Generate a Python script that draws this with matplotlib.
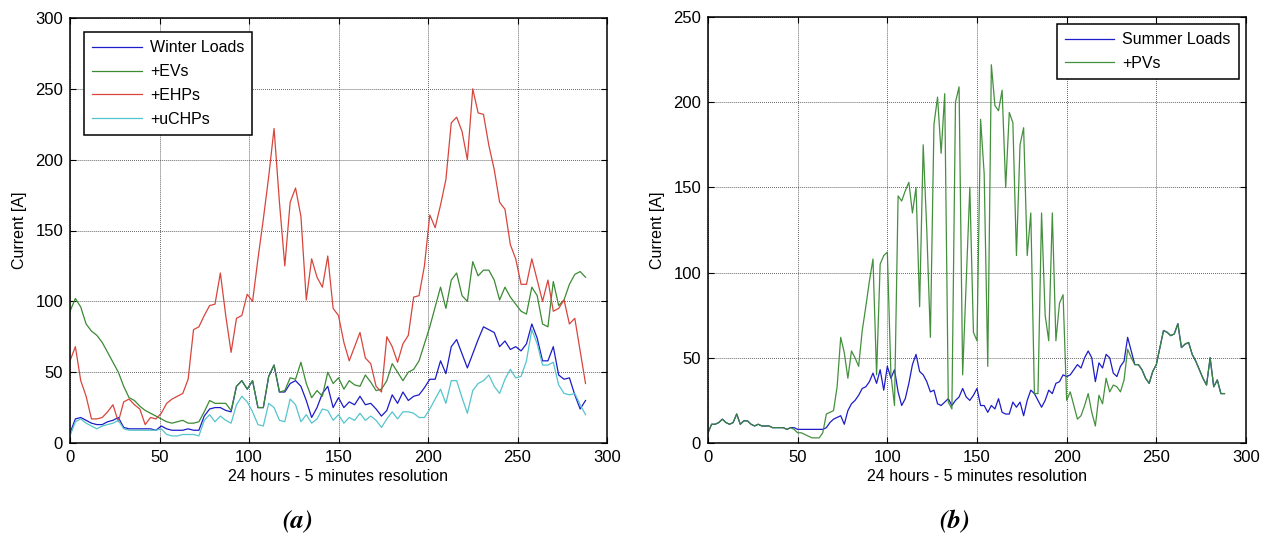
import numpy as np
import matplotlib
matplotlib.use("Agg")
import matplotlib.pyplot as plt

plt.rcParams['font.family'] = ['Liberation Sans', 'DejaVu Sans']

# ---- Panel (a): winter, 5-minute samples read every 3 steps ----
step_a = 3
winter_loads = [7, 17, 18, 16, 14, 13, 13, 15, 16, 18,
                11, 10, 10, 10, 10, 10, 9, 12, 10, 9,
                9, 9, 10, 9, 9, 19, 24, 25, 25, 23,
                22, 40, 44, 38, 44, 25, 25, 47, 55, 36,
                36, 42, 44, 40, 30, 18, 25, 35, 40, 25,
                32, 25, 29, 27, 33, 27, 28, 24, 19, 23,
                34, 28, 36, 30, 33, 34, 39, 45, 45, 58,
                49, 68, 73, 63, 53, 63, 73, 82, 80, 78,
                68, 72, 66, 68, 65, 70, 84, 74, 58, 58,
                68, 48, 45, 46, 34, 24, 30]
plus_evs = [93, 102, 96, 84, 79, 76, 71, 64, 57, 50,
            40, 32, 30, 26, 23, 21, 19, 17, 15, 14,
            15, 16, 14, 14, 15, 22, 30, 28, 28, 28,
            23, 40, 44, 38, 44, 25, 25, 47, 55, 36,
            37, 46, 45, 57, 42, 32, 37, 33, 50, 42,
            46, 38, 44, 41, 40, 48, 43, 37, 38, 44,
            56, 50, 44, 50, 52, 58, 70, 82, 96, 110,
            95, 115, 120, 104, 100, 128, 118, 122, 122, 115,
            101, 110, 103, 98, 93, 91, 110, 104, 84, 82,
            114, 97, 101, 112, 119, 121, 117]
plus_ehps = [58, 68, 44, 33, 17, 17, 18, 22, 27, 15,
             29, 31, 27, 24, 13, 18, 17, 21, 28, 31,
             33, 35, 45, 80, 82, 90, 97, 98, 120, 90,
             64, 88, 90, 105, 100, 130, 158, 188, 222, 170,
             125, 170, 180, 160, 101, 130, 117, 110, 132, 95,
             90, 71, 58, 68, 78, 60, 56, 40, 36, 75,
             68, 57, 70, 76, 103, 104, 125, 161, 152, 168,
             186, 226, 230, 220, 200, 250, 233, 232, 210, 193,
             170, 165, 140, 130, 112, 112, 130, 115, 100, 115,
             93, 95, 101, 84, 88, 65, 42]
plus_uchps = [5, 15, 17, 14, 12, 10, 12, 13, 14, 16,
              10, 9, 9, 9, 9, 9, 9, 10, 6, 5,
              5, 6, 6, 6, 5, 16, 20, 15, 19, 16,
              14, 27, 33, 29, 22, 13, 12, 28, 25, 16,
              15, 31, 27, 15, 20, 14, 17, 24, 23, 16,
              20, 14, 18, 16, 21, 16, 19, 16, 11, 17,
              22, 17, 22, 22, 21, 18, 18, 24, 31, 38,
              28, 44, 44, 32, 21, 37, 42, 44, 48, 40,
              35, 45, 52, 46, 47, 58, 80, 70, 55, 55,
              57, 41, 35, 34, 35, 27, 20]

# ---- Panel (b): summer, read every 2 steps ----
step_b = 2
summer_loads = [6, 11, 11, 12, 14, 12, 11, 12, 17, 11,
                13, 13, 11, 10, 11, 10, 10, 10, 9, 9,
                9, 9, 8, 9,
                9, 8, 8, 8, 8, 8, 8, 8, 8, 9,
                12, 14, 15, 16, 11, 19, 23, 25, 28, 32,
                33, 36, 41, 35, 43, 31,
                45, 38, 43, 30, 22, 26, 35, 46, 52, 42,
                40, 36, 30, 31, 23, 22, 24, 26, 22, 25,
                27, 32, 27, 25, 28,
                32, 22, 22, 18, 22, 20, 26, 18, 17, 17,
                24, 21, 24, 16, 25, 31, 29, 25, 21, 25,
                31, 29, 35, 36, 40,
                39, 40, 43, 46, 44, 50, 54, 50, 36, 47,
                44, 52, 50, 41, 39, 45, 48, 62, 54, 46,
                46, 43, 38, 35, 42,
                46, 56, 66, 65, 63, 64, 70, 56, 58, 59,
                52, 48, 43, 38, 34, 50, 33, 37, 29, 29]
plus_pvs = [6, 11, 11, 12, 14, 12, 11, 12, 17, 11,
            13, 13, 11, 10, 11, 10, 10, 10, 9, 9,
            9, 9, 8, 9,
            8, 6, 6, 5, 4, 3, 3, 3, 6, 17,
            18, 19, 33, 62, 53, 38, 54, 50, 45, 66,
            80, 95, 108, 40, 105, 110,
            112, 40, 22, 145, 142, 148, 153, 135, 150, 80,
            175, 125, 62, 187, 203, 170, 205, 24, 20, 200,
            209, 40, 95, 150, 65,
            60, 190, 158, 45, 222, 198, 195, 207, 150, 194,
            188, 110, 175, 185, 110, 135, 29, 29, 135, 75,
            60, 135, 60, 82, 87,
            25, 30, 22, 14, 16, 22, 29, 18, 10, 28,
            23, 38, 30, 34, 33, 30, 37, 55, 50, 46,
            46, 43, 38, 35, 42,
            46, 56, 66, 65, 63, 64, 70, 56, 58, 59,
            52, 48, 43, 38, 34, 50, 33, 37, 29, 29]

x_a = np.arange(len(winter_loads)) * step_a
x_b = np.arange(len(summer_loads)) * step_b

c_blue = '#1c1cc8'
c_green = '#3b8a34'
c_red = '#d8453c'
c_cyan = '#55c4cc'

W, H = 1266, 537
fig = plt.figure(figsize=(W / 100, H / 100), dpi=100)
ax1 = fig.add_axes([70 / W, (H - 443) / H, 537 / W, 425 / H])
ax2 = fig.add_axes([708 / W, (H - 443) / H, 538 / W, 426 / H])

lw = 0.9
ax1.plot(x_a, winter_loads, color=c_blue, lw=lw, label='Winter Loads')
ax1.plot(x_a, plus_evs, color=c_green, lw=lw, label='+EVs')
ax1.plot(x_a, plus_ehps, color=c_red, lw=lw, label='+EHPs')
ax1.plot(x_a, plus_uchps, color=c_cyan, lw=lw, label='+uCHPs')
ax1.set_ylim(0, 300)
ax1.set_yticks(np.arange(0, 301, 50))

ax2.plot(x_b, summer_loads, color=c_blue, lw=lw, label='Summer Loads')
ax2.plot(x_b, plus_pvs, color=c_green, lw=lw, alpha=0.95, label='+PVs')
ax2.set_ylim(0, 250)
ax2.set_yticks(np.arange(0, 251, 50))

for ax in (ax1, ax2):
    ax.set_xlim(0, 300)
    ax.set_xticks(np.arange(0, 301, 50))
    ax.grid(True, linestyle=(0, (1, 1.2)), color='#505050', linewidth=0.65)
    ax.tick_params(direction='in', top=True, right=True, length=4,
                   labelsize=12, width=0.8, pad=5)
    for s in ax.spines.values():
        s.set_linewidth(1.1)
    ax.set_xlabel('24 hours - 5 minutes resolution', fontsize=11.5, labelpad=3)
    ax.set_ylabel('Current [A]', fontsize=11.5, labelpad=6)

leg_kw = dict(fontsize=11.5, fancybox=False, edgecolor='black', framealpha=1,
              handlelength=3.1, handletextpad=0.5, borderpad=0.5,
              labelspacing=0.55, borderaxespad=0.9)
l1 = ax1.legend(loc='upper left', **leg_kw)
l2 = ax2.legend(loc='upper right', **dict(leg_kw, borderaxespad=0.45))
for l in (l1, l2):
    l.get_frame().set_linewidth(1.1)

fig.text(298 / W, 1 - 522 / H, '(a)', family='STIXGeneral', style='italic',
         weight='bold', fontsize=19, ha='center', va='center')
fig.text(955 / W, 1 - 522 / H, '(b)', family='STIXGeneral', style='italic',
         weight='bold', fontsize=19, ha='center', va='center')

fig.savefig('out.png', dpi=100)
